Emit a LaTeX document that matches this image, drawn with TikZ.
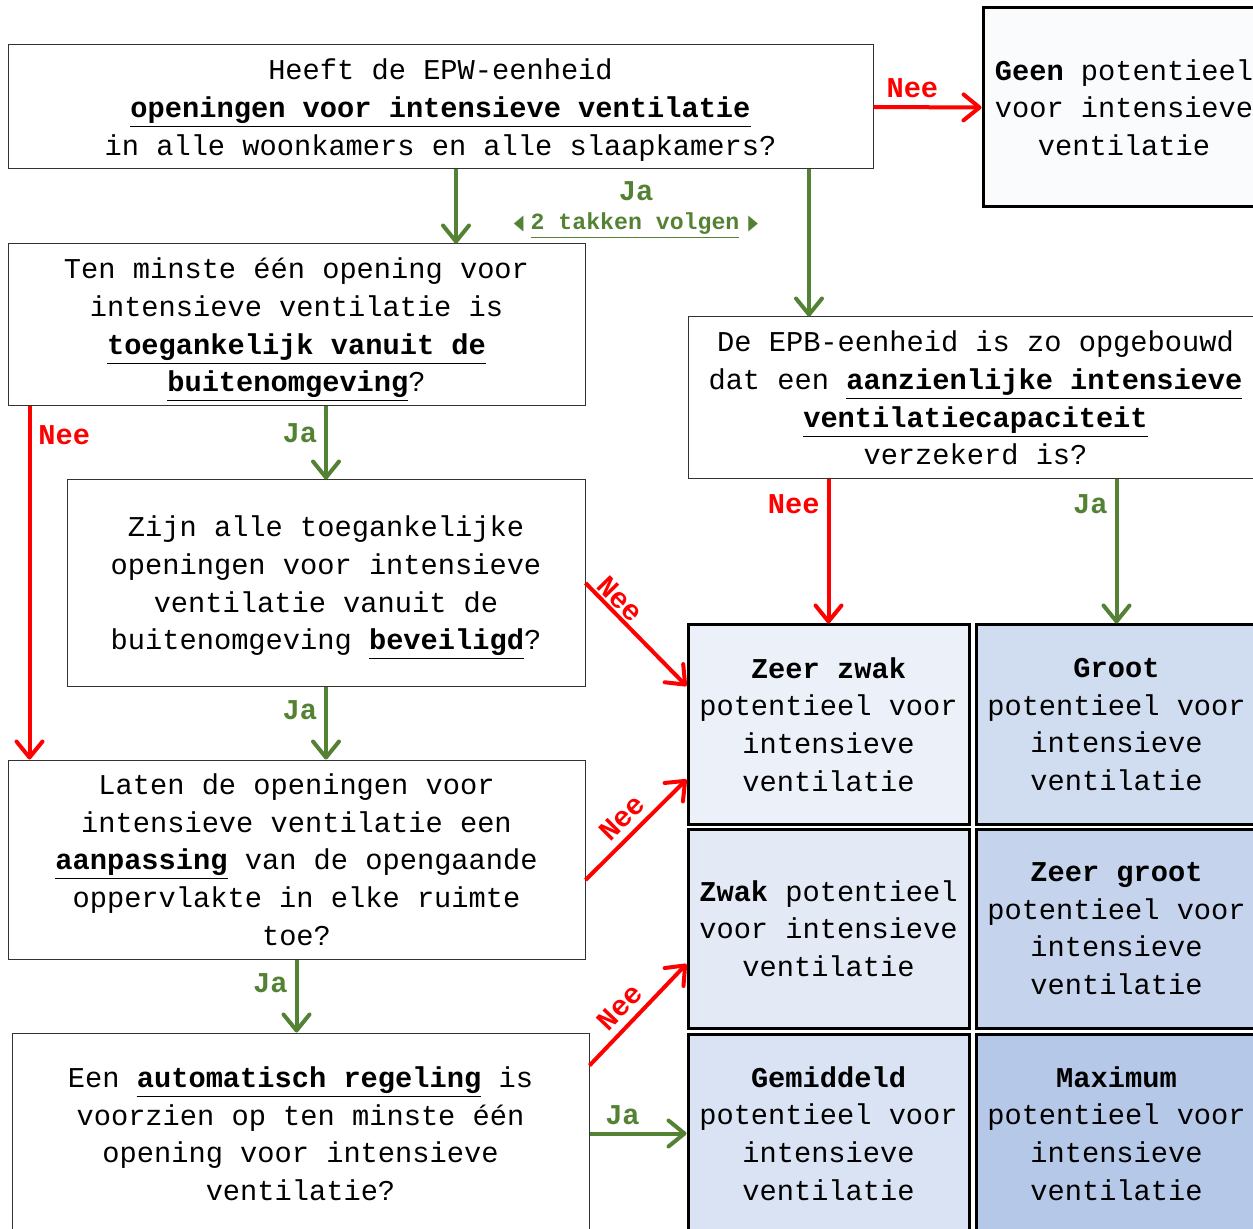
\documentclass[tikz,border=0pt]{standalone}
\usepackage{fontspec}
\setmainfont{Liberation Mono}
\newfontfamily\pijlfont{DejaVu Sans}
\usepackage{tikz}
\usetikzlibrary{shapes,arrows.meta}
\definecolor{jagroen}{RGB}{84,130,53}
\definecolor{neerood}{RGB}{255,0,0}
\definecolor{epbblauw}{RGB}{68,114,196}
\newcommand{\tekstfont}{\fontsize{14.35}{18.85}\selectfont}
\newcommand{\nadruk}[1]{\underline{\textbf{#1}}}
\newcommand{\pijltje}[1]{{\pijlfont\fontsize{10.5}{12}\selectfont\scalebox{0.6}[1]{#1}}}
\tikzstyle{vraag} = [rectangle, draw=black!80, line width=0.5pt, align=center, inner sep=0pt, text depth=0pt, fill=white, font=\tekstfont]
\tikzstyle{uitkomst} = [rectangle, draw=black, line width=1.5pt, align=center, inner sep=0pt, minimum width=140.5pt, minimum height=99.5pt, font=\tekstfont]
\tikzstyle{nee} = [line width=2pt, neerood, -{Straight Barb[length=8pt,width=13pt,round]}]
\tikzstyle{ja} = [line width=2pt, jagroen, -{Straight Barb[length=8pt,width=13pt,round]}]
\tikzstyle{neelabel} = [text=neerood, inner sep=3.5pt, font=\tekstfont\bfseries]
\tikzstyle{jalabel} = [text=jagroen, inner sep=3.5pt, font=\tekstfont\bfseries]

\begin{document}
\begin{tikzpicture}[x=0.5pt, y=-0.5pt, node distance=102pt]
\useasboundingbox (0,0) rectangle (1253,1229);
\clip (0,0) rectangle (1253,1229);

% vragen
\node (q1) [vraag, minimum width=432.5pt, minimum height=62pt] at (440.5,107) {Heeft de EPW-eenheid\\ \nadruk{openingen voor intensieve ventilatie}\\ in alle woonkamers en alle slaapkamers?};
\node (q2) [vraag, minimum width=288.5pt, minimum height=81pt] at (296.5,325) {Ten minste één opening voor\\ intensieve ventilatie is\\ \nadruk{toegankelijk vanuit de}\\ \nadruk{buitenomgeving}?};
\node (q3) [vraag, minimum width=259pt, minimum height=103pt] at (326,583) {Zijn alle toegankelijke\\ openingen voor intensieve\\ ventilatie vanuit de\\ buitenomgeving \nadruk{beveiligd}?};
\node (q4) [vraag, minimum width=288.5pt, minimum height=99.5pt] at (296.5,859.5) {Laten de openingen voor\\ intensieve ventilatie een\\ \nadruk{aanpassing} van de opengaande\\ oppervlakte in elke ruimte\\ toe?};
\node (q5) [vraag, minimum width=288.5pt, minimum height=100.5pt] at (300.5,1133.5) {Een \nadruk{automatisch regeling} is\\ voorzien op ten minste één\\ opening voor intensieve\\ ventilatie?};
\node (q6) [vraag, minimum width=287.5pt, minimum height=81pt] at (975.5,398) {De EPB-eenheid is zo opgebouwd\\ dat een \nadruk{aanzienlijke intensieve}\\ \nadruk{ventilatiecapaciteit}\\ verzekerd is?};

% uitkomsten
\node (geen) [uitkomst, fill=epbblauw!3, minimum width=141pt] at (1124,107.5) {\textbf{Geen} potentieel\\ voor intensieve\\ ventilatie};
\node (zeerzwak) [uitkomst, fill=epbblauw!10] at (828.5,724.5) {\textbf{Zeer zwak}\\ potentieel voor\\ intensieve\\ ventilatie};
\node (zwak) [uitkomst, fill=epbblauw!15, below of=zeerzwak] {\textbf{Zwak} potentieel\\ voor intensieve\\ ventilatie};
\node (gemiddeld) [uitkomst, fill=epbblauw!20, below of=zwak, yshift=-0.5pt] {\textbf{Gemiddeld}\\ potentieel voor\\ intensieve\\ ventilatie};
\node (groot) [uitkomst, fill=epbblauw!25, right of=zeerzwak, xshift=42pt] {\textbf{Groot}\\ potentieel voor\\ intensieve\\ ventilatie};
\node (zeergroot) [uitkomst, fill=epbblauw!31, below of=groot] {\textbf{Zeer groot}\\ potentieel voor\\ intensieve\\ ventilatie};
\node (maximum) [uitkomst, fill=epbblauw!39, below of=zeergroot, yshift=-0.5pt] {\textbf{Maximum}\\ potentieel voor\\ intensieve\\ ventilatie};

% splitsing
\node (jasplit) [jalabel] at (636,191) {Ja};
\node (takken) [text=jagroen, inner sep=0pt, font=\fontsize{11.6}{14}\selectfont\bfseries] at (636,226) {\pijltje{◀}\hspace{3.5pt}\underline{2 takken volgen}\hspace{4.5pt}\pijltje{▶}};

\draw [nee] (q1.east) -- node[neelabel, above, pos=0.36] {Nee} (geen.west);
\draw [ja] ([xshift=7.75pt]q1.south) -- ([xshift=79.75pt]q2.north);
\draw [ja] ([xshift=184.25pt]q1.south) -- ([xshift=-83.25pt]q6.north);
\draw [nee] ([xshift=11pt]q2.south west) -- node[neelabel, right, pos=0.08] {Nee} ([xshift=11pt]q4.north west);
\draw [ja] (q3.north |- q2.south) -- node[jalabel, left, pos=0.37] {Ja} (q3.north);
\draw [nee] (q3.east) -- node[neelabel, sloped, above, pos=0.25, inner sep=1pt] {Nee} ([yshift=19.25pt]zeerzwak.west);
\draw [ja] (q3.south) -- node[jalabel, left, pos=0.33] {Ja} (q3.south |- q4.north);
\draw [nee] ([yshift=-10.25pt]q4.east) -- node[neelabel, sloped, above, pos=0.49] {Nee} ([yshift=23pt]zeerzwak.south west);
\draw [ja] (q4.south) -- node[jalabel, left, pos=0.33] {Ja} (q4.south |- q5.north);
\draw [nee] ([yshift=-16.5pt]q5.north east) -- node[neelabel, sloped, above, pos=0.45] {Nee} ([yshift=-17.75pt]zwak.west);
\draw [ja] (q5.east) -- node[jalabel, above, pos=0.34] {Ja} (gemiddeld.west);
\draw [nee] (zeerzwak.north |- q6.south) -- node[neelabel, left, pos=0.17] {Nee} (zeerzwak.north);
\draw [ja] (groot.north |- q6.south) -- node[jalabel, left, pos=0.17] {Ja} (groot.north);

\end{tikzpicture}
\end{document}
